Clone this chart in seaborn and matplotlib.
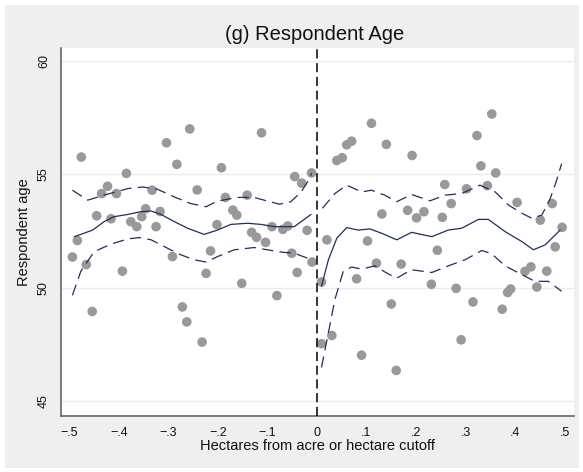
import numpy as np
import pandas as pd
import matplotlib
matplotlib.use("Agg")
import matplotlib.pyplot as plt
from matplotlib.patches import Rectangle
import seaborn as sns

# ---- data ----
left_x = [-0.494, -0.484, -0.476, -0.466, -0.454, -0.445, -0.435, -0.423, -0.416, -0.405,
          -0.393, -0.385, -0.376, -0.364, -0.354, -0.346, -0.333, -0.325, -0.317, -0.304,
          -0.292, -0.283, -0.272, -0.263, -0.257, -0.242, -0.232, -0.224, -0.215, -0.202,
          -0.193, -0.185, -0.170, -0.162, -0.152, -0.141, -0.132, -0.122, -0.112, -0.104,
          -0.091, -0.081, -0.069, -0.059, -0.051, -0.045, -0.040, -0.031, -0.020, -0.011, -0.010]
left_y = [51.35, 52.08, 55.76, 51.02, 48.95, 53.17, 54.15, 54.47, 53.04, 54.15,
          50.73, 55.04, 52.91, 52.69, 53.13, 53.48, 54.30, 52.69, 53.36, 56.39,
          51.37, 55.44, 49.15, 48.49, 57.00, 54.31, 47.60, 50.63, 51.62, 52.78,
          55.29, 53.98, 53.42, 53.20, 50.19, 54.08, 52.44, 52.22, 56.83, 52.00,
          52.69, 49.65, 52.57, 52.72, 51.52, 54.90, 50.67, 54.61, 52.53, 55.06, 51.13]

right_x = [0.009, 0.009, 0.020, 0.030, 0.040, 0.051, 0.060, 0.070, 0.080, 0.090,
           0.102, 0.110, 0.120, 0.131, 0.140, 0.150, 0.160, 0.170, 0.183, 0.192,
           0.201, 0.216, 0.231, 0.243, 0.253, 0.258, 0.271, 0.281, 0.291, 0.302,
           0.315, 0.323, 0.331, 0.344, 0.353, 0.361, 0.374, 0.385, 0.391, 0.404,
           0.420, 0.432, 0.444, 0.451, 0.464, 0.475, 0.481, 0.495]
right_y = [50.25, 47.53, 52.11, 47.89, 55.61, 55.73, 56.30, 56.46, 50.39, 47.02,
           52.06, 57.25, 51.08, 53.25, 56.32, 49.28, 46.35, 51.04, 53.41, 55.83,
           53.08, 53.35, 50.15, 51.65, 53.10, 54.55, 53.71, 49.97, 47.70, 54.36,
           49.37, 56.71, 55.37, 54.50, 57.66, 55.06, 49.05, 49.79, 49.94, 53.76,
           50.72, 50.92, 50.03, 52.98, 50.73, 53.71, 51.80, 52.66]

# local polynomial fit (solid) and 95% CI (dashed), left of cutoff
fitL_x = [-0.490, -0.477, -0.453, -0.430, -0.410, -0.382, -0.356, -0.335, -0.315, -0.288,
          -0.261, -0.228, -0.201, -0.174, -0.140, -0.113, -0.086, -0.046, -0.012]
fitL_y = [52.25, 52.35, 52.54, 52.91, 53.13, 53.23, 53.35, 53.38, 53.23, 52.91,
          52.62, 52.35, 52.54, 52.79, 52.84, 52.79, 52.69, 52.69, 53.23]
upL_x = [-0.494, -0.463, -0.430, -0.382, -0.352, -0.322, -0.288, -0.255, -0.224, -0.201,
         -0.160, -0.127, -0.100, -0.076, -0.053, -0.032, -0.015, -0.011]
upL_y = [54.30, 53.86, 54.08, 54.37, 54.44, 54.34, 54.00, 53.71, 53.57, 53.82,
         53.98, 53.98, 53.82, 53.68, 53.79, 54.22, 54.81, 55.05]
loL_x = [-0.494, -0.477, -0.450, -0.416, -0.382, -0.359, -0.335, -0.302, -0.275, -0.248,
         -0.224, -0.201, -0.167, -0.127, -0.100, -0.073, -0.046, -0.019, -0.011]
loL_y = [49.66, 50.72, 51.59, 51.92, 52.15, 52.21, 52.11, 51.74, 51.45, 51.23,
         51.13, 51.37, 51.67, 51.77, 51.67, 51.57, 51.52, 51.30, 51.18]

# right of cutoff
fitR_x = [0.009, 0.023, 0.040, 0.060, 0.083, 0.107, 0.134, 0.161, 0.191, 0.232,
          0.265, 0.292, 0.326, 0.346, 0.380, 0.414, 0.437, 0.461, 0.491]
fitR_y = [50.06, 51.23, 52.18, 52.65, 52.54, 52.59, 52.37, 52.11, 52.44, 52.25,
          52.54, 52.62, 53.01, 53.01, 52.47, 52.03, 51.67, 51.89, 52.54]
upR_x = [0.011, 0.036, 0.060, 0.090, 0.110, 0.137, 0.161, 0.191, 0.228, 0.259,
         0.292, 0.329, 0.360, 0.387, 0.414, 0.434, 0.454, 0.471, 0.484, 0.494]
upR_y = [53.50, 54.15, 54.52, 54.22, 54.30, 54.08, 53.79, 54.11, 53.83, 54.08,
         54.15, 54.52, 54.22, 53.64, 53.28, 53.06, 53.20, 53.93, 54.74, 55.47]
loR_x = [0.009, 0.023, 0.036, 0.053, 0.070, 0.090, 0.117, 0.141, 0.161, 0.191,
         0.232, 0.265, 0.299, 0.333, 0.353, 0.380, 0.414, 0.440, 0.467, 0.494]
loR_y = [46.48, 48.01, 49.47, 50.72, 50.91, 50.82, 50.96, 50.64, 50.42, 50.79,
         50.67, 50.96, 51.23, 51.64, 51.49, 50.96, 50.57, 50.28, 50.28, 49.84]

x_ticks = [-0.5, -0.4, -0.3, -0.2, -0.1, 0.0, 0.1, 0.2, 0.3, 0.4, 0.5]
x_ticklabels = ["\u2212.5", "\u2212.4", "\u2212.3", "\u2212.2", "\u2212.1", "0",
                ".1", ".2", ".3", ".4", ".5"]
y_ticks = [45, 50, 55, 60]
y_ticklabels = ["45", "50", "55", "60"]

title = "(g) Respondent Age"
xlabel = "Hectares from acre or hectare cutoff"
ylabel = "Respondent age"

# ---- styling ----
sns.set_style("white")
plt.rcParams["font.family"] = ["Liberation Sans", "DejaVu Sans"]

W, H = 583, 472
fig = plt.figure(figsize=(W / 100, H / 100), dpi=100)
fig.patch.set_facecolor("white")
fig.patches.append(Rectangle((5 / W, 1 - 468 / H), 574 / W, 463 / H,
                             transform=fig.transFigure, facecolor="#efefef",
                             edgecolor="none", zorder=-10))

ax = fig.add_axes([61 / W, 1 - 416 / H, (574 - 61) / W, (416 - 48) / H])
ax.set_facecolor("white")

for yv in y_ticks:
    ax.axhline(yv, color="#e6eef0", lw=1.0, zorder=0)

pts = pd.DataFrame({"x": left_x + right_x, "y": left_y + right_y})
sns.scatterplot(data=pts, x="x", y="y", ax=ax, color="#999999", s=48,
                edgecolor="none", linewidth=0, zorder=3)

navy = "#1e2f5c"
def draw(xs, ys, dashed):
    d = pd.DataFrame({"x": xs, "y": ys})
    sns.lineplot(data=d, x="x", y="y", ax=ax, color=navy, lw=0.9,
                 sort=False, estimator=None, zorder=4)
    line = ax.lines[-1]
    line.set_solid_joinstyle("round")
    if dashed:
        line.set_dashes([9, 5])

draw(fitL_x, fitL_y, False)
draw(upL_x, upL_y, True)
draw(loL_x, loL_y, True)
draw(fitR_x, fitR_y, False)
draw(upR_x, upR_y, True)
draw(loR_x, loR_y, True)

ax.axvline(0, color="black", lw=1.1, dashes=(6, 3), zorder=5)

ax.set_xlim(-0.517, 0.519)
ax.set_ylim(44.34, 60.57)
ax.set_xticks(x_ticks)
ax.set_xticklabels(x_ticklabels)
ax.set_yticks(y_ticks)
ax.set_yticklabels(y_ticklabels, rotation=90, va="center")
ax.tick_params(axis="both", direction="out", length=5, width=0.8,
               color="#444444", labelsize=9, labelcolor="#111111", pad=3)
for s in ["top", "right"]:
    ax.spines[s].set_visible(False)
for s in ["left", "bottom"]:
    ax.spines[s].set_color("#666666")
    ax.spines[s].set_linewidth(1.2)

ax.set_xlabel("")
ax.set_ylabel("")
fig.text(315 / W, 1 - 34 / H, title, ha="center", va="center", fontsize=14.5, color="#111111")
fig.text(317 / W, 1 - 446 / H, xlabel, ha="center", va="center", fontsize=10.5, color="#111111")
fig.text(24 / W, 1 - 232 / H, ylabel, ha="center", va="center", rotation=90,
         fontsize=10.5, color="#111111")

fig.savefig("out.png", dpi=100, facecolor=fig.get_facecolor())
